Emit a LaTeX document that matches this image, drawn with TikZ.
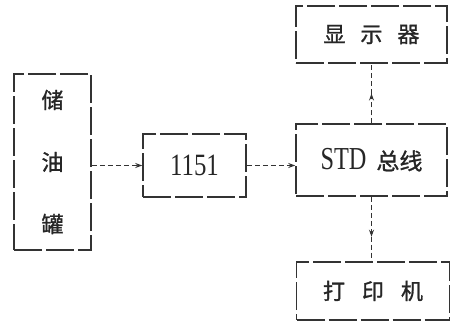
\documentclass[tikz,border=0pt]{standalone}
\usepackage{graphicx}
\usepackage{fontspec}
\setmainfont{Liberation Serif}
\newfontfamily\cjk[FakeBold=1.2]{Noto Sans CJK SC}
\usetikzlibrary{arrows.meta}

\begin{document}
\begin{tikzpicture}[x=1pt, y=-1pt,
    box/.style={draw=black!80, text=black!85, line width=1.5pt, dash pattern=on 28pt off 4pt, inner sep=0pt},
    link/.style={draw=black!80, line width=1pt, dash pattern=on 5pt off 3pt},
    tip/.style={-{Stealth[length=7pt,width=5pt]}}]
    \useasboundingbox (0,0) rectangle (453,324);

    \node[box, minimum width=77pt, minimum height=176pt, align=center, font=\cjk\fontsize{22}{26}\selectfont] (tank) at (52.5,162) {储\\[36pt]油\\[36pt]罐};
    \node[box, minimum width=103pt, minimum height=63pt, font=\fontsize{31}{32}\selectfont] (sensor) at (194.5,165.5) {\scalebox{0.8}[1]{1151}};
    \node[box, minimum width=151pt, minimum height=72pt] (bus) at (371.5,160) {\fontsize{32}{33}\selectfont\scalebox{0.76}[1]{STD}\hspace{10pt}{\cjk\fontsize{23}{26}\selectfont 总线}};
    \node[box, minimum width=151pt, minimum height=57pt, font=\cjk\fontsize{22}{26}\selectfont] (disp) at (371.5,34.5) {显\hspace{15pt}示\hspace{15pt}器};
    \node[box, minimum width=153pt, minimum height=58pt, font=\cjk\fontsize{22}{26}\selectfont] (prn) at (373,291) {打\hspace{17pt}印\hspace{17pt}机};

    \path (bus.north) -- (disp.south) coordinate[pos=0.5] (up);
    \path (bus.south) -- (bus.south |- prn.north) coordinate[pos=0.62] (down);

    \draw[link, tip] (tank.east |- sensor.west) -- (sensor.west);
    \draw[link, tip] (sensor.east) -- (sensor.east -| bus.west);
    \draw[link, tip] (bus.north) -- (up);
    \draw[link] (up) -- (disp.south);
    \draw[link, tip] (bus.south) -- (down);
    \draw[link] (down) -- (bus.south |- prn.north);
\end{tikzpicture}
\end{document}
